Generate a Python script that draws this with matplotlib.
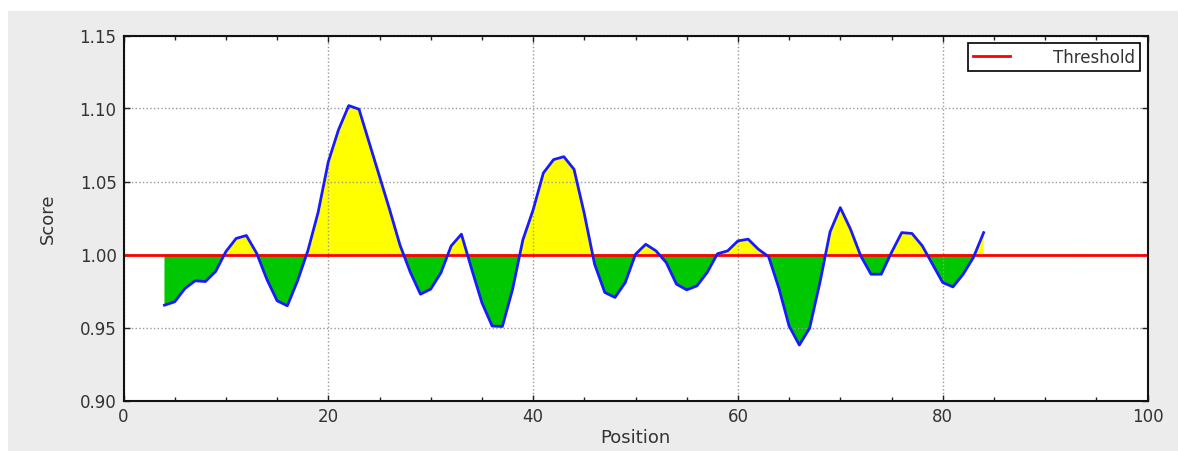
"""
Score vs Position plot with threshold at 1.0
(yellow above threshold, green below)
"""
import numpy as np
import matplotlib.pyplot as plt
from matplotlib.patches import Rectangle
from matplotlib.ticker import MultipleLocator

plt.rcParams['font.family'] = ['DejaVu Sans']

# データ
positions = list(range(4, 85))
scores = [
    0.9653, 0.9676, 0.9767, 0.9820, 0.9815, 0.9884, 1.0020, 1.0110, 1.0130,  # 4-12
    1.0009, 0.9830, 0.9683, 0.9649, 0.9820, 1.0025, 1.0287, 1.0635, 1.0855,  # 13-21
    1.1020, 1.0995, 1.0765, 1.0535, 1.0305, 1.0065, 0.9880, 0.9728, 0.9763,  # 22-30
    0.9875, 1.0059, 1.0139, 0.9900, 0.9670, 0.9510, 0.9507, 0.9763, 1.0100,  # 31-39
    1.0305, 1.0558, 1.0650, 1.0670, 1.0583, 1.0280, 0.9935, 0.9740, 0.9706,  # 40-48
    0.9808, 1.0002, 1.0070, 1.0025, 0.9945, 0.9797, 0.9758, 0.9785, 0.9877,  # 49-57
    1.0005, 1.0025, 1.0093, 1.0105, 1.0036, 0.9985, 0.9770, 0.9510, 0.9380,  # 58-66
    0.9495, 0.9805, 1.0155, 1.0321, 1.0173, 0.9990, 0.9865, 0.9865, 1.0014,  # 67-75
    1.0150, 1.0144, 1.0060, 0.9934, 0.9808, 0.9778, 0.9865, 0.9980, 1.0150,  # 76-84
]
threshold = 1.0

x = np.array(positions)
y = np.array(scores)

fig = plt.figure(figsize=(11.78, 4.52), dpi=100, facecolor='#ececec')
# 上と左の白い余白
fig.patches.append(Rectangle((0, 440 / 452), 1, 12 / 452, transform=fig.transFigure,
                             facecolor='white', edgecolor='none', zorder=-1))
fig.patches.append(Rectangle((0, 0), 8 / 1178, 1, transform=fig.transFigure,
                             facecolor='white', edgecolor='none', zorder=-1))

ax = fig.add_axes([123.5 / 1178, 1 - 401.5 / 452, 1024 / 1178, 365 / 452])

ax.fill_between(x, y, threshold, where=y >= threshold, interpolate=True,
                facecolor='#ffff00', edgecolor='none', zorder=1)
ax.fill_between(x, y, threshold, where=y <= threshold, interpolate=True,
                facecolor='#00c800', edgecolor='none', zorder=1)
ax.axhline(threshold, color='red', linewidth=2, label='Threshold', zorder=2)
ax.plot(x, y, color='#1a1aff', linewidth=2, zorder=3)

ax.set_xlim(0, 100)
ax.set_ylim(0.90, 1.15)
ax.xaxis.set_major_locator(MultipleLocator(20))
ax.xaxis.set_minor_locator(MultipleLocator(5))
ax.yaxis.set_major_locator(MultipleLocator(0.05))
ax.yaxis.set_major_formatter(plt.FormatStrFormatter('%.2f'))

ax.tick_params(which='both', direction='in', top=True, right=True,
               labelsize=12, labelcolor='#333333', color='#222222')
ax.tick_params(which='major', length=4, width=1, pad=5)
ax.tick_params(which='minor', length=3, width=1)
for s in ax.spines.values():
    s.set_linewidth(1.5)
    s.set_color('#111111')

ax.grid(True, which='major', linestyle=':', color='#999999', linewidth=1)

ax.set_xlabel('Position', fontsize=13, color='#333333', labelpad=2)
ax.set_ylabel('Score', fontsize=13, color='#333333', labelpad=16)

leg = ax.legend(loc='upper right', fontsize=12, fancybox=False, framealpha=1,
                edgecolor='black', handlelength=2.2, handletextpad=2.6,
                borderaxespad=0.45, borderpad=0.3)
leg.get_frame().set_linewidth(1.2)
for t in leg.get_texts():
    t.set_color('#333333')

plt.savefig('out.png', dpi=100)
plt.close()
